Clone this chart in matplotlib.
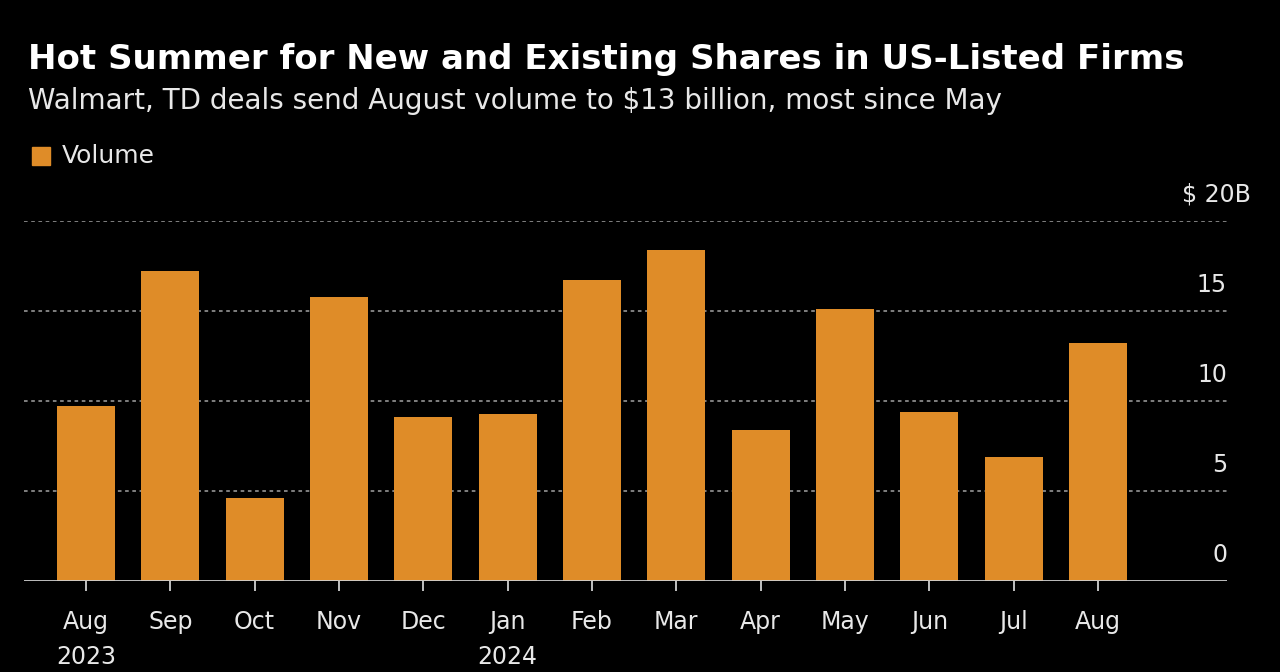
import matplotlib
matplotlib.use("Agg")
import matplotlib.pyplot as plt
import matplotlib.patches as mpatches

months = ["Aug\n2023", "Sep", "Oct", "Nov", "Dec", "Jan\n2024", "Feb",
          "Mar", "Apr", "May", "Jun", "Jul", "Aug"]
volume = [9.7, 17.2, 4.6, 15.8, 9.1, 9.3, 16.7, 18.4, 8.4, 15.1, 9.4, 6.9, 13.2]
yticks = [0, 5, 10, 15, 20]
ytick_labels = ["0", "5", "10", "15", "$ 20B"]

bg = "#000000"
fg = "#E8E8E8"
orange = "#DF8C28"

fig = plt.figure(figsize=(12.8, 6.72), dpi=100, facecolor=bg)
ax = fig.add_axes([0.01875, 1 - 581 / 672, 0.9586 - 0.01875, (581 - 221) / 672])
ax.set_facecolor(bg)

x = list(range(len(months)))
ax.bar(x, volume, width=0.69, color=orange, zorder=2)

ax.set_xlim(-0.735, 13.53)
ax.set_ylim(0, 20)

for v in yticks[1:]:
    ax.axhline(v, color="#8A8A8A", lw=1.3, ls=(0, (2, 2)), zorder=1)
ax.axhline(0, color="#D0D0D0", lw=2, zorder=3)

for v, lab in zip(yticks, ytick_labels):
    # the "B" of the top label hangs past the right edge of the numbers
    shift = 24 if lab.endswith("B") else 0
    ax.annotate(lab, xy=(13.53, v + 1.45), xytext=(shift, 0), textcoords="offset pixels",
                ha="right", va="center", color=fg, fontsize=17, annotation_clip=False)

ax.set_xticks(x)
ax.set_xticklabels(months, color=fg, fontsize=17, linespacing=1.55)
ax.tick_params(axis="x", length=7, width=1.3, color="#D0D0D0", pad=14)
ax.set_yticks([])
for s in ax.spines.values():
    s.set_visible(False)

fig.text(28 / 1280, 1 - 60 / 672, "Hot Summer for New and Existing Shares in US-Listed Firms",
         color="white", fontsize=24.5, fontweight="bold", va="center", ha="left")
fig.text(28 / 1280, 1 - 101 / 672, "Walmart, TD deals send August volume to $13 billion, most since May",
         color=fg, fontsize=20, va="center", ha="left")

fig.patches.append(mpatches.Rectangle((32 / 1280, 1 - 165 / 672), 18 / 1280, 18 / 672,
                                      transform=fig.transFigure, color=orange))
fig.text(62 / 1280, 1 - 156 / 672, "Volume", color=fg, fontsize=18, va="center", ha="left")

fig.savefig("out.png", dpi=100, facecolor=bg)
